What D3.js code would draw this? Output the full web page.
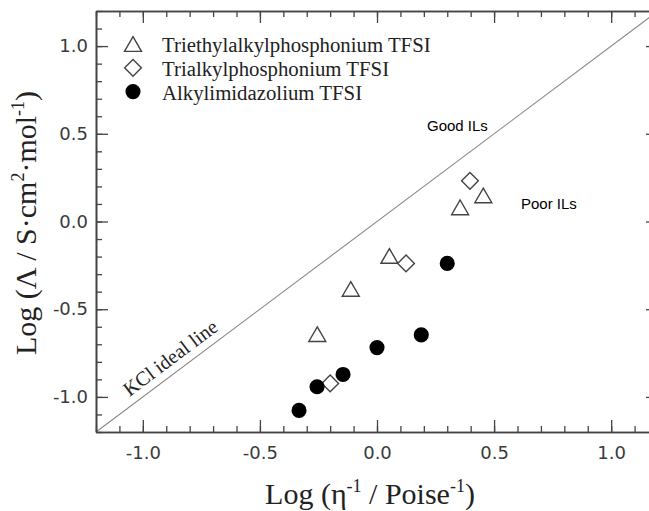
<!DOCTYPE html>
<html>
<head>
<meta charset="utf-8">
<script src="https://cdn.jsdelivr.net/npm/d3@7"></script>
<style>
  html, body { margin:0; padding:0; background:#fff; overflow:hidden; }
  #chart { width:649px; height:511px; }
</style>
</head>
<body>
<div id="chart"></div>
<script>
// Walden plot: log molar conductivity vs log fluidity for three IL families
const seriesNames = ['Triethylalkylphosphonium TFSI', 'Trialkylphosphonium TFSI', 'Alkylimidazolium TFSI'];
const triX = [-0.255, -0.112, 0.053, 0.355, 0.454];
const triY = [-0.642, -0.384, -0.196, 0.081, 0.149];
const diaX = [-0.200, 0.124, 0.397];
const diaY = [-0.923, -0.239, 0.232];
const cirX = [-0.333, -0.256, -0.145, 0.000, 0.189, 0.300];
const cirY = [-1.077, -0.942, -0.872, -0.719, -0.646, -0.239];
const majorTicks = [-1.0, -0.5, 0.0, 0.5, 1.0];
const minorTicks = d3.range(-12, 13).map(i => i / 10);
const idealLine = [[-1.2, -1.2], [1.2, 1.2]];

(function(){
  const W = 649, H = 511;
  const svg = d3.select('#chart').append('svg').attr('width', W).attr('height', H);

  const x = d3.scaleLinear().domain([-1.2, 1.2]).range([96, 658]);
  const y = d3.scaleLinear().domain([-1.2, 1.2]).range([432, 11]);
  const fmt = d => d.toFixed(1);
  const ink = '#444';

  // ideal KCl line
  svg.append('path')
    .attr('d', d3.line().x(d => x(d[0])).y(d => y(d[1]))(idealLine))
    .attr('stroke', '#8a8a8a').attr('stroke-width', 1.1).attr('fill', 'none');

  // axes (ticks pointing inward)
  function styleAxis(g){
    g.select('.domain').attr('stroke', ink).attr('stroke-width', 1.6);
    g.selectAll('.tick line').attr('stroke', ink).attr('stroke-width', 1.3);
    g.selectAll('.tick text').attr('fill', '#3a3a3a').attr('font-family', 'DejaVu Sans').attr('font-size', 18);
  }
  const bottom = svg.append('g').attr('transform', `translate(0,${y(-1.2)})`)
    .call(d3.axisBottom(x).tickValues(majorTicks).tickSize(-12).tickFormat(fmt).tickSizeOuter(0));
  bottom.selectAll('.tick text').attr('dy', null).attr('y', 27);
  styleAxis(bottom);
  svg.append('g').attr('transform', `translate(0,${y(-1.2)})`)
    .call(d3.axisBottom(x).tickValues(minorTicks).tickSize(-6).tickFormat('').tickSizeOuter(0)).call(styleAxis);

  svg.append('g').attr('transform', `translate(0,${y(1.2)})`)
    .call(d3.axisTop(x).tickValues(majorTicks).tickSize(-12).tickFormat('').tickSizeOuter(0)).call(styleAxis);
  svg.append('g').attr('transform', `translate(0,${y(1.2)})`)
    .call(d3.axisTop(x).tickValues(minorTicks).tickSize(-6).tickFormat('').tickSizeOuter(0)).call(styleAxis);

  const left = svg.append('g').attr('transform', `translate(${x(-1.2)},0)`)
    .call(d3.axisLeft(y).tickValues(majorTicks).tickSize(-12).tickFormat(fmt).tickSizeOuter(0));
  left.selectAll('.tick text').attr('x', -8);
  styleAxis(left);
  svg.append('g').attr('transform', `translate(${x(-1.2)},0)`)
    .call(d3.axisLeft(y).tickValues(minorTicks).tickSize(-6).tickFormat('').tickSizeOuter(0)).call(styleAxis);

  svg.append('g').attr('transform', `translate(${x(1.2)},0)`)
    .call(d3.axisRight(y).tickValues(majorTicks).tickSize(-12).tickFormat('').tickSizeOuter(0)).call(styleAxis);
  svg.append('g').attr('transform', `translate(${x(1.2)},0)`)
    .call(d3.axisRight(y).tickValues(minorTicks).tickSize(-6).tickFormat('').tickSizeOuter(0)).call(styleAxis);

  // markers
  const triSym = d3.symbol().type(d3.symbolTriangle).size(125)();
  const sqSym = d3.symbol().type(d3.symbolSquare).size(140)();
  const cirSym = d3.symbol().type(d3.symbolCircle).size(180)();

  svg.append('g').selectAll('path').data(triX.map((v, i) => [v, triY[i]])).join('path')
    .attr('d', triSym)
    .attr('transform', d => `translate(${x(d[0])},${y(d[1]) + 2.5})`)
    .attr('fill', '#fff').attr('stroke', ink).attr('stroke-width', 1.4);

  svg.append('g').selectAll('path').data(diaX.map((v, i) => [v, diaY[i]])).join('path')
    .attr('d', sqSym)
    .attr('transform', d => `translate(${x(d[0])},${y(d[1])}) rotate(45)`)
    .attr('fill', '#fff').attr('stroke', ink).attr('stroke-width', 1.4);

  svg.append('g').selectAll('path').data(cirX.map((v, i) => [v, cirY[i]])).join('path')
    .attr('d', cirSym)
    .attr('transform', d => `translate(${x(d[0])},${y(d[1])})`)
    .attr('fill', '#000');

  // legend
  const legendSyms = [
    {sym: triSym, fill: '#fff', stroke: ink, dy: 2.5, rot: 0},
    {sym: sqSym, fill: '#fff', stroke: ink, dy: 0, rot: 45},
    {sym: cirSym, fill: '#000', stroke: 'none', dy: 0, rot: 0}
  ];
  const leg = svg.append('g');
  seriesNames.forEach((name, i) => {
    const cy = 44 + i * 23.8;
    leg.append('path').attr('d', legendSyms[i].sym)
      .attr('transform', `translate(133,${cy + legendSyms[i].dy}) rotate(${legendSyms[i].rot})`)
      .attr('fill', legendSyms[i].fill).attr('stroke', legendSyms[i].stroke).attr('stroke-width', 1.4);
    leg.append('text').attr('x', 162).attr('y', cy + 8)
      .attr('font-family', 'Liberation Serif').attr('font-size', 20.8).attr('fill', '#222')
      .text(name);
  });

  // annotations
  svg.append('text').attr('x', 427).attr('y', 130.5)
    .attr('font-family', 'Liberation Sans').attr('font-size', 15).attr('fill', '#000').text('Good ILs');
  svg.append('text').attr('x', 521).attr('y', 208.5)
    .attr('font-family', 'Liberation Sans').attr('font-size', 15).attr('fill', '#000').text('Poor ILs');

  const ang = -Math.atan2(y(-1.2) - y(1.2), x(1.2) - x(-1.2)) * 180 / Math.PI;
  svg.append('text')
    .attr('transform', `translate(${x(-0.845)},${y(-0.845)}) rotate(${ang})`)
    .attr('text-anchor', 'middle').attr('dy', -8)
    .attr('font-family', 'Liberation Serif').attr('font-size', 20).attr('fill', '#222')
    .text('KCl ideal line');

  // axis titles
  const xt = svg.append('text').attr('x', 370).attr('y', 504).attr('text-anchor', 'middle')
    .attr('font-family', 'Liberation Serif').attr('font-size', 30).attr('fill', '#222');
  xt.append('tspan').text('Log (η');
  xt.append('tspan').attr('font-size', 18).attr('dy', -12).text('-1');
  xt.append('tspan').attr('dy', 12).text(' / Poise');
  xt.append('tspan').attr('font-size', 18).attr('dy', -12).text('-1');
  xt.append('tspan').attr('dy', 12).text(')');

  const yt = svg.append('text').attr('transform', 'translate(36,223) rotate(-90)').attr('text-anchor', 'middle')
    .attr('font-family', 'Liberation Serif').attr('font-size', 30).attr('fill', '#222');
  yt.append('tspan').text('Log  (Λ / S·cm');
  yt.append('tspan').attr('font-size', 18).attr('dy', -12).text('2');
  yt.append('tspan').attr('dy', 12).text('·mol');
  yt.append('tspan').attr('font-size', 18).attr('dy', -12).text('-1');
  yt.append('tspan').attr('dy', 12).text(')');
})();
</script>
</body>
</html>
